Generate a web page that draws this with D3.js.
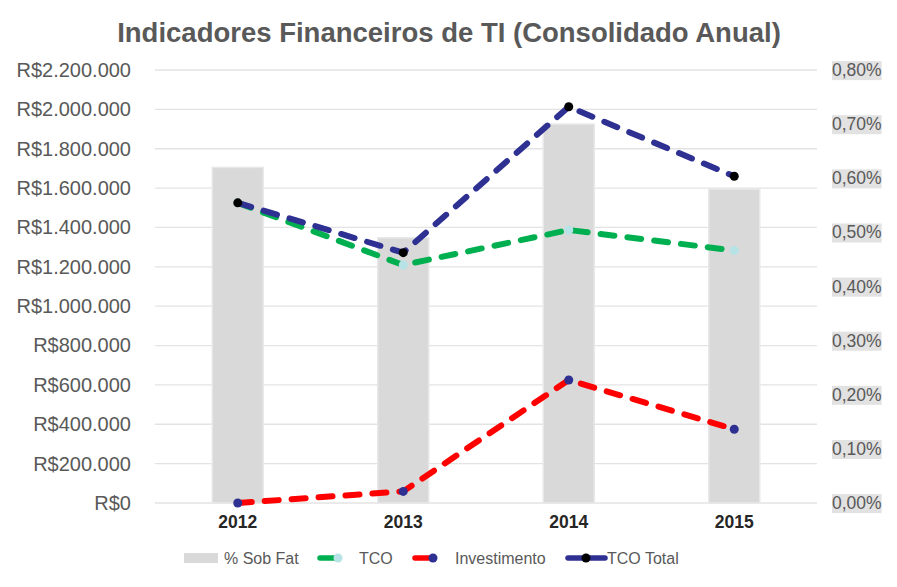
<!DOCTYPE html>
<html>
<head>
<meta charset="utf-8">
<script src="https://cdn.jsdelivr.net/npm/d3@7"></script>
<style>
  body { margin: 0; background: #fff; }
  text { font-family: "Liberation Sans", Arial, sans-serif; }
</style>
</head>
<body>
<div id="chart"></div>
<script>
// data
const years = ['2012', '2013', '2014', '2015'];
const sobFat = [0.0062, 0.0049, 0.0070, 0.0058];
const tco = [1525000, 1209000, 1387000, 1283000];
const investimento = [0, 59000, 625000, 375000];
const tcoTotal = [1525000, 1272000, 2013000, 1660000];
const leftTicks = d3.range(0, 2200001, 200000);
const rightTicks = d3.range(0, 0.00801, 0.001);

const width = 897, height = 587;
const plot = {left: 155, right: 817, top: 70, bottom: 503};

const svg = d3.select('#chart').append('svg')
    .attr('width', width)
    .attr('height', height);

const x = d3.scaleBand().domain(years).range([plot.left, plot.right]);
const yL = d3.scaleLinear().domain([0, 2200000]).range([plot.bottom, plot.top]);
const yR = d3.scaleLinear().domain([0, 0.008]).range([plot.bottom, plot.top]);

const fmtMoney = d => 'R$' + d3.format(',')(d).replace(/,/g, '.');
const fmtPct = d => d3.format('.2f')(d * 100).replace('.', ',') + '%';

// title
svg.append('text')
    .attr('x', 449).attr('y', 42)
    .attr('text-anchor', 'middle')
    .attr('font-size', 27.5).attr('font-weight', 'bold')
    .attr('fill', '#595959')
    .text('Indicadores Financeiros de TI (Consolidado Anual)');

// gridlines
svg.append('g').selectAll('line').data(leftTicks).join('line')
    .attr('x1', plot.left).attr('x2', plot.right)
    .attr('y1', d => yL(d)).attr('y2', d => yL(d))
    .attr('stroke', '#e3e3e3').attr('stroke-width', 1.3);

// left axis
const gL = svg.append('g')
    .attr('transform', `translate(${plot.left - 10},0)`)
    .call(d3.axisLeft(yL).tickValues(leftTicks).tickFormat(fmtMoney).tickSize(0).tickPadding(14));
gL.select('.domain').remove();
gL.selectAll('text').attr('font-size', 20).attr('fill', '#595959')
    .attr('font-family', '"Liberation Sans", Arial, sans-serif');

// right axis
const gR = svg.append('g')
    .attr('transform', `translate(${plot.right + 15},0)`)
    .call(d3.axisRight(yR).tickValues(rightTicks).tickFormat(fmtPct).tickSize(0).tickPadding(0));
gR.select('.domain').remove();
gR.selectAll('text').attr('font-size', 17.5).attr('fill', '#595959')
    .attr('font-family', '"Liberation Sans", Arial, sans-serif');
gR.selectAll('.tick').each(function() {
    const t = d3.select(this).select('text');
    const b = t.node().getBBox();
    d3.select(this).insert('rect', 'text')
        .attr('x', b.x).attr('y', b.y + 1)
        .attr('width', b.width).attr('height', b.height - 1)
        .attr('fill', '#e2e2e2');
});

// x axis labels
const gX = svg.append('g')
    .attr('transform', `translate(0,${plot.bottom})`)
    .call(d3.axisBottom(x).tickSize(0).tickPadding(13));
gX.select('.domain').remove();
gX.selectAll('text').attr('font-size', 17.5).attr('font-weight', 'bold').attr('fill', '#262626')
    .attr('font-family', '"Liberation Sans", Arial, sans-serif');

// bars
const barW = 51;
svg.append('g').selectAll('rect').data(sobFat).join('rect')
    .attr('x', (d, i) => x(years[i]) + x.bandwidth() / 2 - barW / 2)
    .attr('y', d => yR(d))
    .attr('width', barW)
    .attr('height', d => plot.bottom - yR(d))
    .attr('fill', '#d9d9d9')
    .attr('stroke', '#e8e8e8').attr('stroke-width', 1.5);

// lines
const series = [
    {name: 'TCO', values: tco, color: '#00b050', marker: '#b7e3e6'},
    {name: 'Investimento', values: investimento, color: '#ff0000', marker: '#2e3192'},
    {name: 'TCO Total', values: tcoTotal, color: '#2e3192', marker: '#000000'}
];
const cx = i => x(years[i]) + x.bandwidth() / 2;
const line = d3.line().x((d, i) => cx(i)).y(d => yL(d));

series.forEach(s => {
    svg.append('path')
        .datum(s.values)
        .attr('d', line)
        .attr('fill', 'none')
        .attr('stroke', s.color)
        .attr('stroke-width', 6)
        .attr('stroke-linecap', 'round')
        .attr('stroke-dasharray', '14,13');
    svg.append('g').selectAll('circle').data(s.values).join('circle')
        .attr('cx', (d, i) => cx(i))
        .attr('cy', d => yL(d))
        .attr('r', 4.5)
        .attr('fill', s.marker);
});

// legend
const leg = svg.append('g').attr('font-size', 16).attr('fill', '#595959');
const ly = 558;
leg.append('rect').attr('x', 184).attr('y', ly - 5).attr('width', 34).attr('height', 10).attr('fill', '#d9d9d9');
leg.append('text').attr('x', 224).attr('y', ly + 6).text('% Sob Fat');

const legLines = [
    {s: series[0], x1: 320, x2: 339, mx: 338, tx: 359},
    {s: series[1], x1: 415, x2: 434, mx: 433, tx: 455},
    {s: series[2], x1: 568, x2: 605, mx: 586, tx: 607}
];
legLines.forEach(l => {
    leg.append('line')
        .attr('x1', l.x1).attr('x2', l.x2).attr('y1', ly).attr('y2', ly)
        .attr('stroke', l.s.color).attr('stroke-width', 5.5).attr('stroke-linecap', 'round');
    leg.append('circle').attr('cx', l.mx).attr('cy', ly).attr('r', 4.5).attr('fill', l.s.marker);
    leg.append('text').attr('x', l.tx).attr('y', ly + 6).text(l.s.name);
});
</script>
</body>
</html>
